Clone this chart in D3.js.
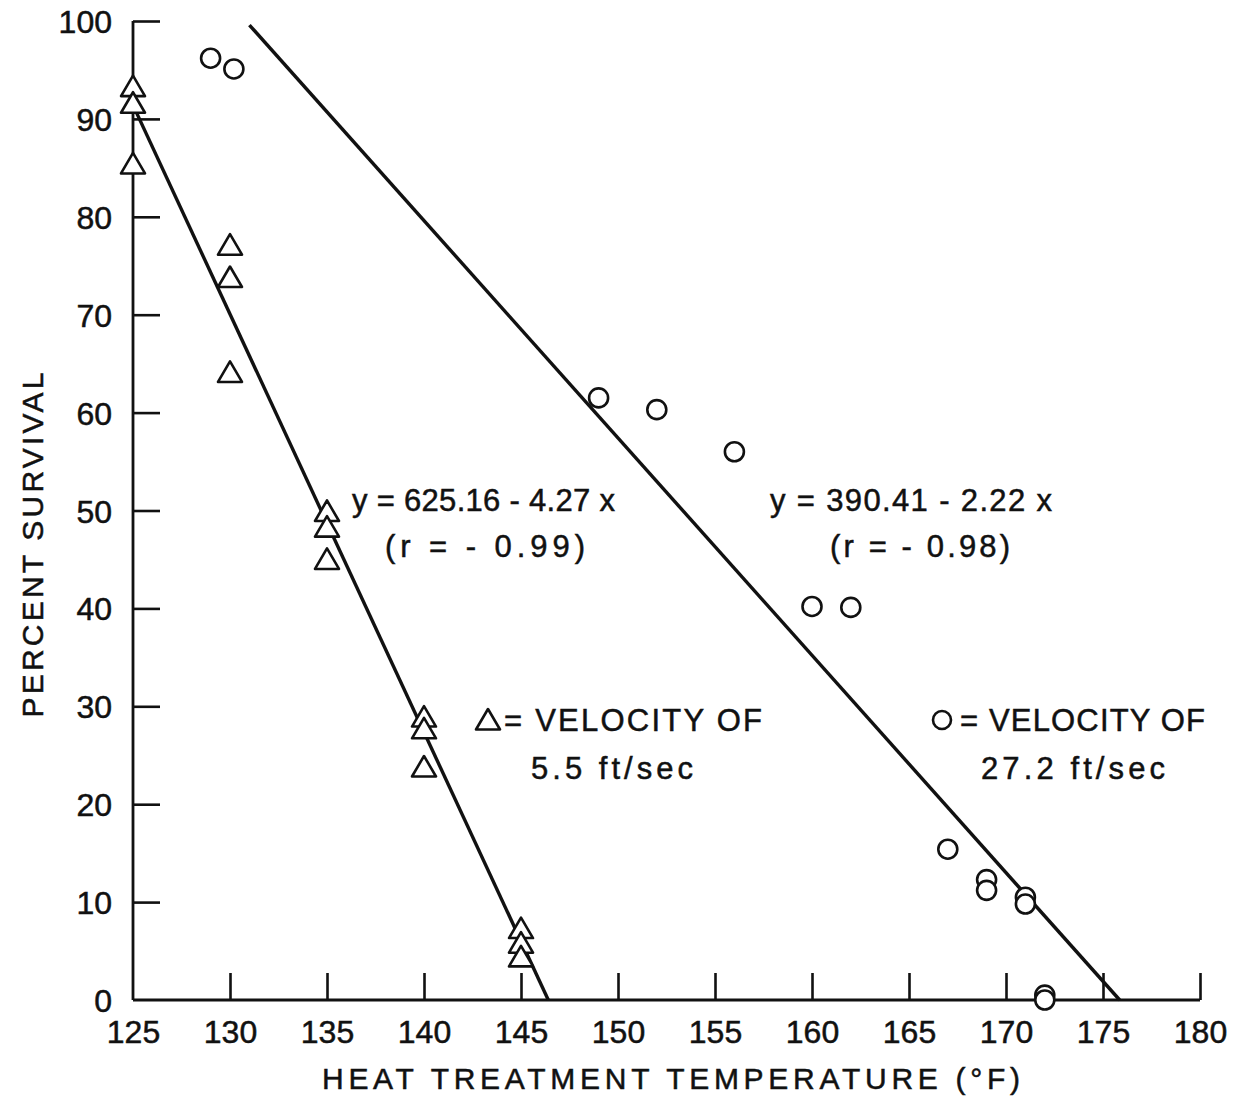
<!DOCTYPE html>
<html><head><meta charset="utf-8">
<script src="https://cdn.jsdelivr.net/npm/d3@7"></script>
<style>html,body{margin:0;padding:0;background:#fff;}svg{display:block;}</style>
</head><body>
<svg id="c" width="1239" height="1097"></svg>
<script>
const xTicks = [125,130,135,140,145,150,155,160,165,170,175,180];
const yTicks = [0,10,20,30,40,50,60,70,80,90,100];
// Triangles: velocity 5.5 ft/sec
const triTemp = [125,125,125,130,130,130,135,135,135,140,140,140,145,145,145];
const triSurv = [93.3,91.6,85.4,77.1,73.8,64.1,49.9,48.3,45.0,28.9,27.7,23.8,7.3,5.8,4.4];
// Circles: velocity 27.2 ft/sec
const cirTemp = [129,130.2,149,152,156,160,162,167,169,169,171,171,172,172];
const cirSurv = [96.2,95.1,61.5,60.3,56.0,40.2,40.1,15.4,12.3,11.2,10.5,9.8,0.5,0.0];
// Regression lines
const fit1 = {a:625.16, b:-4.27, x0:125};
const fit2 = {a:390.41, b:-2.22, x0:131};

const svg = d3.select("#c");
const font = "'Liberation Sans', Arial, sans-serif";
const x = d3.scaleLinear().domain([125,180]).range([133,1200]);
const y = d3.scaleLinear().domain([0,100]).range([1000,21]);
const ink = "#111";

// axes (ticks inward)
const xAxis = d3.axisBottom(x).tickValues(xTicks).tickSize(-27).tickPadding(43).tickFormat(d3.format("d"));
const gx = svg.append("g").attr("transform","translate(0,1000)").call(xAxis);
const yAxis = d3.axisLeft(y).tickValues(yTicks).tickSize(-27).tickPadding(48).tickFormat(d3.format("d"));
const gy = svg.append("g").attr("transform","translate(133,0)").call(yAxis);
[gx,gy].forEach(g=>{
  g.select(".domain").attr("stroke",ink).attr("stroke-width",2.8).attr("d", g===gx ? "M133,0H1200" : "M0,1000V21");
  g.selectAll(".tick line").attr("stroke",ink).attr("stroke-width",2.6);
  g.selectAll(".tick text").attr("fill",ink).attr("font-family",font).attr("font-size",32)
    .attr("stroke",ink).attr("stroke-width",0.5);
});
gx.selectAll(".tick text").attr("dy","0");
gx.selectAll(".tick line").filter(d=>d===125).remove();
gy.selectAll(".tick line").filter(d=>d===0).remove();
gy.selectAll(".tick text").attr("text-anchor","end").attr("x",-21).attr("dy","0.36em");

// regression lines
[fit1,fit2].forEach(f=>{
  const x1 = -f.a/f.b;
  svg.append("line").attr("x1",x(f.x0)).attr("y1",y(f.a+f.b*f.x0))
    .attr("x2",x(x1)).attr("y2",y(0)).attr("stroke",ink).attr("stroke-width",3.4);
});

// triangles
const triPath = "M0,-11L12,9.5L-12,9.5Z";
svg.append("g").selectAll("path").data(triTemp).join("path")
  .attr("d",triPath)
  .attr("transform",(d,i)=>`translate(${x(d)},${y(triSurv[i])})`)
  .attr("fill","#fff").attr("stroke",ink).attr("stroke-width",2.6).attr("stroke-linejoin","round");

// circles
svg.append("g").selectAll("circle").data(cirTemp).join("circle")
  .attr("cx",d=>x(d)).attr("cy",(d,i)=>y(cirSurv[i])).attr("r",9.5)
  .attr("fill","#fff").attr("stroke",ink).attr("stroke-width",2.6);

// texts
function txt(s, cx, cy, w, size, anchor){
  const t = svg.append("text").attr("x",cx).attr("y",cy).attr("font-family",font)
    .attr("font-size",size).attr("fill",ink).attr("stroke",ink).attr("stroke-width",0.5)
    .attr("dominant-baseline","central")
    .attr("text-anchor",anchor||"start").text(s);
  if(w) t.attr("textLength",w).attr("lengthAdjust","spacing");
  return t;
}
txt("y = 625.16 - 4.27 x", 352, 500, 263, 31);
txt("(r = - 0.99)", 385, 546, 200, 31);
txt("y = 390.41 - 2.22 x", 770, 500, 282, 31);
txt("(r = - 0.98)", 830, 546, 180, 31);

// legend
svg.append("path").attr("d",triPath).attr("transform","translate(488,720)")
  .attr("fill","#fff").attr("stroke",ink).attr("stroke-width",2.6).attr("stroke-linejoin","round");
txt("= VELOCITY  OF", 504, 720, 258, 31);
txt("5.5 ft/sec", 531, 768, 162, 31);
svg.append("circle").attr("cx",942).attr("cy",720).attr("r",9)
  .attr("fill","#fff").attr("stroke",ink).attr("stroke-width",2.6);
txt("= VELOCITY  OF", 960, 720, 245, 31);
txt("27.2 ft/sec", 981, 768, 184, 31);

// axis titles
txt("HEAT TREATMENT TEMPERATURE (°F)", 322, 1078, 698, 30);
txt("PERCENT SURVIVAL", 0, 0, 345, 30).attr("text-anchor","middle")
  .attr("transform","translate(32,545) rotate(-90)");
</script>
</body></html>
